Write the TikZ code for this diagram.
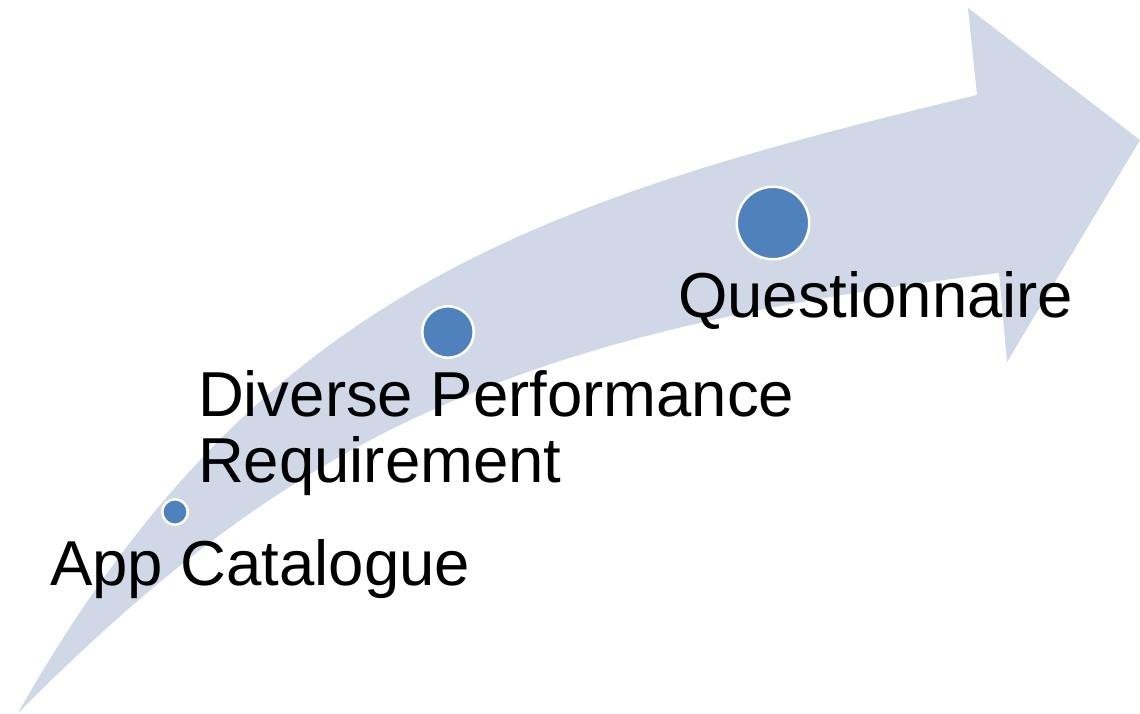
\documentclass[tikz,border=0pt]{standalone}
\usepackage{fontspec}
\setmainfont{Liberation Sans}
\definecolor{bandfill}{HTML}{D0D8E8}
\definecolor{dotfill}{HTML}{4F81BD}
\begin{document}
\begin{tikzpicture}[x=1pt,y=-1pt,
  dot/.style={circle,fill=dotfill,draw=white,line width=2.5pt,inner sep=0pt},
  lbl/.style={inner sep=0pt,outer sep=0pt,anchor=base west,font=\fontsize{63.5}{66}\selectfont,text=black,align=left}]
\useasboundingbox (0,0) rectangle (1140,713);
% curved arrow band
\fill[bandfill] (18,713) .. controls (255,295) and (527,203) .. (977,95)
  -- (968,8) -- (1140,140) -- (1007,362) -- (999,273)
  .. controls (499,333) and (285,445) .. (18,713) -- cycle;
% milestones
\node[dot,minimum size=25.5pt] (d1) at (175,512) {};
\node[dot,minimum size=51.5pt] (d2) at (448,332) {};
\node[dot,minimum size=72.5pt] (d3) at (773,223) {};
% labels
\node[lbl] (t1) at (50,585) {App Catalogue};
\node[lbl] (t2) at (198,482) {Diverse Performance\\Requirement};
\node[lbl] (t3) at (678,317) {Questionnaire};
\end{tikzpicture}
\end{document}
